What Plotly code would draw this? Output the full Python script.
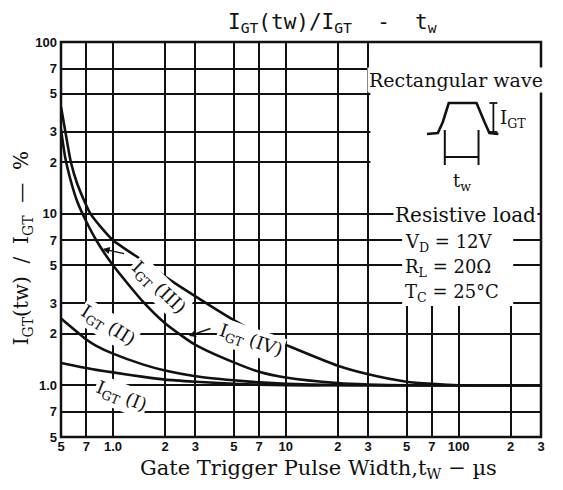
import plotly.graph_objects as go
import math

# ---- data ----
tw_I = [0.5, 0.6, 0.7, 0.8, 1, 1.5, 2, 3, 5, 7, 10, 20, 50, 100, 300]
igt_I = [1.35, 1.30, 1.26, 1.23, 1.19, 1.12, 1.08, 1.05, 1.02, 1.01, 1.0, 1.0, 1.0, 1.0, 1.0]

tw_II = [0.5, 0.6, 0.7, 0.8, 1, 1.5, 2, 3, 5, 7, 10, 20, 30, 50, 100, 300]
igt_II = [2.45, 2.1, 1.85, 1.7, 1.53, 1.32, 1.22, 1.13, 1.07, 1.04, 1.02, 1.005, 1.0, 1.0, 1.0, 1.0]

tw_A = [0.5, 0.53, 0.57, 0.62, 0.7, 0.8, 1, 1.5, 2, 3, 5, 7, 10, 20, 30, 50, 100, 300]
igt_A = [31, 21, 15.5, 11.8, 9.0, 7.0, 5.0, 3.05, 2.3, 1.72, 1.36, 1.2, 1.11, 1.03, 1.01, 1.0, 1.0, 1.0]

tw_B = [0.5, 0.53, 0.57, 0.62, 0.74, 1, 1.5, 2, 3, 5, 7, 10, 20, 30, 50, 70, 100, 300]
igt_B = [42, 30, 20, 15, 10, 7.0, 5.3, 4.3, 3.3, 2.4, 2.0, 1.72, 1.3, 1.16, 1.05, 1.02, 1.0, 1.0]

x_ticks = [0.5, 0.7, 1, 2, 3, 5, 7, 10, 20, 30, 50, 70, 100, 200, 300]
x_ticktext = ["5", "7", "1.0", "2", "3", "5", "7", "10", "2", "3", "5", "7", "100", "2", "3"]
y_ticks = [0.5, 0.7, 1, 2, 3, 5, 7, 10, 20, 30, 50, 70, 100]
y_ticktext = ["5", "7", "1.0", "2", "3", "5", "7", "10", "2", "3", "5", "7", "100"]

# page body has an 8px margin; figure sized so the window shows it like the reference
O = 8
W, H = 547, 474
ML, MR, MT, MB = 53, 10, 34, 45
PW, PH = W - ML - MR, H - MT - MB

def px(x):
    return (x - O - ML) / PW

def py(y):
    return (H - MB - (y - O)) / PH

BLACK = "#111"
SERIF = "DejaVu Serif"

fig = go.Figure()
for xs, ys in [(tw_I, igt_I), (tw_II, igt_II), (tw_A, igt_A), (tw_B, igt_B)]:
    fig.add_trace(go.Scatter(x=xs, y=ys, mode="lines", line=dict(color=BLACK, width=2.6, shape="spline", smoothing=0.6),
                             showlegend=False, hoverinfo="skip"))

tickfont = dict(family="Liberation Sans", size=13, color=BLACK)
fig.update_xaxes(type="log", range=[math.log10(0.5), math.log10(300)], tickvals=x_ticks,
                 ticktext=["<b>%s</b>" % t for t in x_ticktext], showgrid=True, gridcolor=BLACK, gridwidth=1.9,
                 zeroline=False, showline=False, ticks="", tickfont=tickfont)
fig.update_yaxes(type="log", range=[math.log10(0.5), 2], tickvals=y_ticks,
                 ticktext=["<b>%s</b>" % t for t in y_ticktext], showgrid=True, gridcolor=BLACK, gridwidth=1.9,
                 zeroline=False, showline=False, ticks="", tickfont=tickfont, ticklabelstandoff=3)

shapes = []
# white inset area (top right)
shapes.append(dict(type="rect", xref="paper", yref="paper", x0=px(373), x1=px(544), y0=py(212), y1=py(43),
                   fillcolor="white", line=dict(width=0), layer="above"))
# white box for the conditions
shapes.append(dict(type="rect", xref="paper", yref="paper", x0=px(405), x1=px(517), y0=py(306), y1=py(224),
                   fillcolor="white", line=dict(width=0), layer="above"))
# plot border
shapes.append(dict(type="rect", xref="paper", yref="paper", x0=0, x1=1, y0=0, y1=1,
                   line=dict(color=BLACK, width=2.5), layer="above"))
# waveform sketch
wave = [(430, 134), (441, 133), (446, 122), (452, 103), (480, 103), (488, 122), (493, 133), (502, 134)]
path = "M " + " L ".join("%f,%f" % (px(a), py(b)) for a, b in wave)
shapes.append(dict(type="path", xref="paper", yref="paper", path=path, line=dict(color=BLACK, width=2.6), layer="above"))
for xx in (448, 482):
    shapes.append(dict(type="line", xref="paper", yref="paper", x0=px(xx), x1=px(xx), y0=py(130), y1=py(165),
                       line=dict(color=BLACK, width=2), layer="above"))
shapes.append(dict(type="line", xref="paper", yref="paper", x0=px(448), x1=px(482), y0=py(157), y1=py(157),
                   line=dict(color=BLACK, width=1.8), layer="above"))
# IGT bracket
shapes.append(dict(type="line", xref="paper", yref="paper", x0=px(497), x1=px(497), y0=py(103), y1=py(132),
                   line=dict(color=BLACK, width=1.8), layer="above"))
for yy in (103, 132):
    shapes.append(dict(type="line", xref="paper", yref="paper", x0=px(493), x1=px(501), y0=py(yy), y1=py(yy),
                       line=dict(color=BLACK, width=1.8), layer="above"))
fig.update_layout(shapes=shapes)

ann = []
def text(x, y, s, size=15, family=SERIF, angle=0, bg=None, xanchor="center", yanchor="middle"):
    d = dict(xref="paper", yref="paper", x=px(x), y=py(y), text=s, showarrow=False, textangle=angle,
             font=dict(family=family, size=size, color=BLACK), xanchor=xanchor, yanchor=yanchor)
    if bg:
        d["bgcolor"] = bg
    ann.append(d)

def arrow(x0, y0, x1, y1):
    ann.append(dict(xref="paper", yref="paper", x=px(x1), y=py(y1), text="", showarrow=True,
                    ax=x0 - x1, ay=y0 - y1, arrowhead=2, arrowsize=1, arrowwidth=1.4, arrowcolor=BLACK))

text(335, 8, "I<sub>GT</sub>(tw)/I<sub>GT</sub>  -  t<sub>w</sub>", size=21, family="DejaVu Sans Mono", yanchor="top")
text(321, 469, "Gate Trigger Pulse Width,t<sub>W</sub> \u2212 \u00b5s", size=21)
text(22, 248, "I<sub>GT</sub>(tw)  /  I<sub>GT</sub>  \u2014  %", size=20, angle=-90)

text(459, 80, "Rectangular wave", size=19, bg="white")
text(502, 119, "I<sub>GT</sub>", size=18, xanchor="left")
text(465, 182, "t<sub>w</sub>", size=18)
text(469, 215, "Resistive load", size=20, bg="white")
text(406, 243, "V<sub>D</sub> = 12V", size=18, xanchor="left")
text(406, 268, "R<sub>L</sub> = 20\u03a9", size=18, xanchor="left")
text(406, 293, "T<sub>C</sub> = 25\u00b0C", size=18, xanchor="left")

text(122, 397, "I<sub>GT</sub> (I)", size=18, angle=22, bg="white")
text(108, 326, "I<sub>GT</sub> (II)", size=18, angle=32, bg="white")
text(159, 288, "I<sub>GT</sub> (III)", size=18, angle=44, bg="white")
text(252, 341, "I<sub>GT</sub> (IV)", size=18, angle=19, bg="white")
arrow(126, 254, 103, 249)
arrow(213, 328, 190, 336)

fig.update_layout(annotations=ann, width=W, height=H, margin=dict(l=ML, r=MR, t=MT, b=MB),
                  plot_bgcolor="white", paper_bgcolor="white")
fig.write_html("out.html")
